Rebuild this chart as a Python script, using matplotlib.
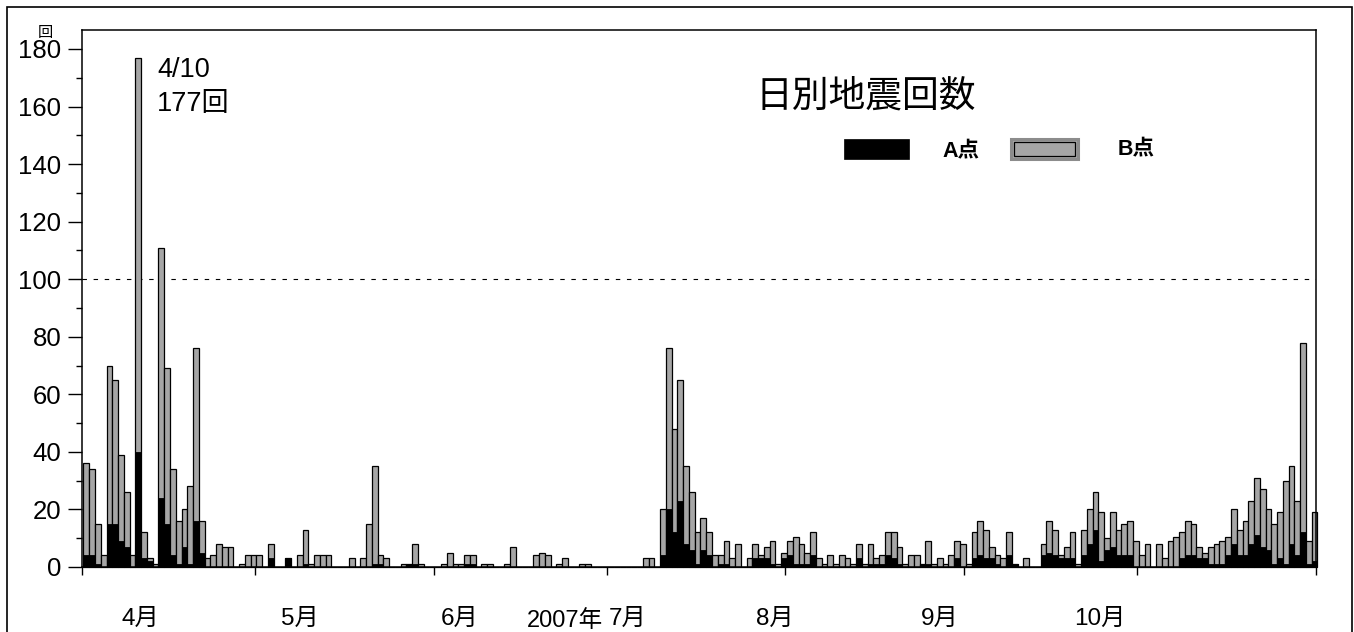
import matplotlib
matplotlib.use("Agg")
import matplotlib.pyplot as plt
import matplotlib.transforms as mtransforms
from matplotlib.patches import Rectangle

plt.rcParams['font.family'] = ['Liberation Sans', 'Noto Sans CJK JP', 'DejaVu Sans']

# ---------------- data (daily counts, Apr 1 - Oct 31, 2007) ----------------
apr_b = [36, 34, 15, 4, 70, 65, 39, 26, 4, 177, 12, 3, 1, 111, 69, 34, 16, 20, 28, 76,
         16, 3, 4, 8, 7, 7, 0, 1, 4, 4]
apr_a = [4, 4, 1, 0, 15, 15, 9, 7, 0, 40, 3, 2, 0, 24, 15, 4, 1, 7, 1, 16,
         5, 0, 0, 0, 0, 0, 0, 0, 0, 0]
may_b = [4, 0, 8, 0, 0, 3, 0, 4, 13, 1, 4, 4, 4, 0, 0, 0, 3, 0, 3, 15,
         35, 4, 3, 0, 0, 1, 1, 8, 1, 0, 0]
may_a = [0, 0, 3, 0, 0, 3, 0, 0, 1, 0, 0, 0, 0, 0, 0, 0, 0, 0, 0, 0,
         1, 1, 0, 0, 0, 0, 1, 1, 0, 0, 0]
jun_b = [0, 1, 5, 1, 1, 4, 4, 0, 1, 1, 0, 0, 1, 7, 0, 0, 0, 4, 5, 4,
         0, 1, 3, 0, 0, 1, 1, 0, 0, 0]
jun_a = [0, 0, 0, 0, 0, 1, 1, 0, 0, 0, 0, 0, 0, 0, 0, 0, 0, 0, 0, 0,
         0, 0, 0, 0, 0, 0, 0, 0, 0, 0]
jul_b = [0, 0, 0, 0, 0, 0, 3, 3, 0, 20, 76, 48, 65, 35, 26, 12, 17, 12, 4, 4,
         9, 3, 8, 0, 3, 8, 4, 7, 9, 1, 5]
jul_a = [0, 0, 0, 0, 0, 0, 0, 0, 0, 4, 20, 12, 23, 8, 6, 1, 6, 4, 0, 1,
         1, 0, 0, 0, 0, 3, 3, 3, 1, 0, 3]
aug_b = [9, 10.5, 8, 5, 12, 3, 1, 4, 1, 4, 3, 1, 8, 1, 8, 3, 4, 12, 12, 7,
         1, 4, 4, 1, 9, 1, 3, 1, 4, 9, 8]
aug_a = [4, 1, 1, 1, 4, 0, 0, 0, 0, 0, 0, 0, 3, 0, 1, 1, 1, 4, 3, 1,
         0, 0, 0, 1, 1, 0, 0, 0, 0, 3, 0]
sep_b = [1, 12, 16, 13, 7, 4, 3, 12, 1, 0, 3, 0, 0, 8, 16, 13, 4, 7, 12, 1,
         13, 20, 26, 19, 10, 19, 13, 15, 16, 9]
sep_a = [0, 3, 4, 3, 3, 1, 0, 4, 1, 0, 0, 0, 0, 4, 5, 4, 3, 3, 3, 0,
         4, 8, 13, 2, 6, 7, 4, 4, 4, 0]
oct_b = [4, 8, 0, 8, 3, 9, 10.5, 12, 16, 15, 7, 5, 7, 8, 9, 10.5, 20, 13, 16, 23,
         31, 27, 20, 15, 19, 30, 35, 23, 78, 9, 19]
oct_a = [0, 0, 0, 0, 0, 0, 0, 3, 4, 4, 3, 3, 1, 1, 1, 4, 8, 4, 4, 8,
         11, 7, 6, 1, 3, 1, 8, 4, 12, 1, 2]

b_counts = apr_b + may_b + jun_b + jul_b + aug_b + sep_b + oct_b
a_counts = apr_a + may_a + jun_a + jul_a + aug_a + sep_a + oct_a

month_labels = ['4月', '5月', '6月', '7月', '8月', '9月', '10月']
month_lengths = [len(apr_b), len(may_b), len(jun_b), len(jul_b), len(aug_b), len(sep_b), len(oct_b)]
y_ticks = [0, 20, 40, 60, 80, 100, 120, 140, 160, 180]

# ---------------- layout ----------------
W, H = 1354, 632
fig = plt.figure(figsize=(W / 100, H / 100), dpi=100)

def fx(px):
    return px / W

def fy(py):
    return 1 - py / H

ax_l, ax_r, ax_t, ax_b = 82, 1316, 30, 567
ax = fig.add_axes([fx(ax_l), fy(ax_b), (ax_r - ax_l) / W, (ax_b - ax_t) / H])

days = list(range(len(b_counts)))
xpos = [d + 0.26 for d in days]

ax.axhline(100, color='black', lw=0.8, ls=(0, (4, 6)), zorder=1)
ax.bar(xpos, b_counts, width=1.0, align='edge', color='#A6A6A6',
       edgecolor='black', linewidth=0.9, zorder=2, clip_on=False)
ax.bar(xpos, a_counts, width=1.0, align='edge', color='black',
       edgecolor='black', linewidth=0.6, zorder=3, clip_on=False)

ndays = len(b_counts)
ax.set_xlim(0, ndays)
ax.set_ylim(0, 186.6)

# x ticks at month boundaries
starts = [0]
for m in month_lengths:
    starts.append(starts[-1] + m)
ax.set_xticks(starts)
ax.set_xticklabels([])
ax.tick_params(axis='x', direction='out', length=6, width=1.0, color='black')

ax.set_yticks(y_ticks)
ax.set_yticks([v + 10 for v in y_ticks[:-1]], minor=True)
ax.set_yticklabels([str(v) for v in y_ticks], fontsize=18.5)
ax.tick_params(axis='y', which='major', direction='out', length=10, width=1.0, pad=5)
ax.tick_params(axis='y', which='minor', direction='out', length=4.5, width=1.0)

for s in ax.spines.values():
    s.set_linewidth(1.1)
    s.set_color('black')

# month labels (placed below the axis)
trans = mtransforms.blended_transform_factory(ax.transData, fig.transFigure)
label_px = [140, 300, 460, 628, 775, 940, 1100]
for lab, px in zip(month_labels, label_px):
    ax.text((px - ax_l) / ((ax_r - ax_l) / ndays), fy(619), lab, transform=trans,
            ha='center', va='center', fontsize=17.5)

fig.text(fx(603), fy(621), '2007年', ha='right', va='center', fontsize=17)

# unit label
fig.text(fx(45), fy(33), '回', ha='center', va='center', fontsize=11)

# annotation of the peak
fig.text(fx(157), fy(70), '4/10', ha='left', va='center', fontsize=19.5)
fig.text(fx(157), fy(104), '177回', ha='left', va='center', fontsize=19.5)

# title
fig.text(fx(866), fy(97), '日別地震回数', ha='center', va='center', fontsize=26.5)

# legend
fig.patches.append(Rectangle((fx(844), fy(159)), (909 - 844) / W, 20 / H,
                             transform=fig.transFigure, facecolor='black',
                             edgecolor='black', lw=0.5))
fig.text(fx(942), fy(151), 'A点', ha='left', va='center', fontsize=15.5, fontweight='bold')
fig.patches.append(Rectangle((fx(1011), fy(159)), (1078 - 1011) / W, 20 / H,
                             transform=fig.transFigure, facecolor='#A6A6A6',
                             edgecolor='#8C8C8C', lw=2.2))
fig.patches.append(Rectangle((fx(1014), fy(156)), (1075 - 1014) / W, 14 / H,
                             transform=fig.transFigure, facecolor='#A6A6A6',
                             edgecolor='black', lw=0.9))
fig.text(fx(1118), fy(149), 'B点', ha='left', va='center', fontsize=15.5, fontweight='bold')

# outer frame
fig.patches.append(Rectangle((fx(7), -0.05), (1352 - 7) / W, fy(7) + 0.05,
                             transform=fig.transFigure, facecolor='none',
                             edgecolor='black', lw=1.2))

fig.savefig('out.png', dpi=100)
